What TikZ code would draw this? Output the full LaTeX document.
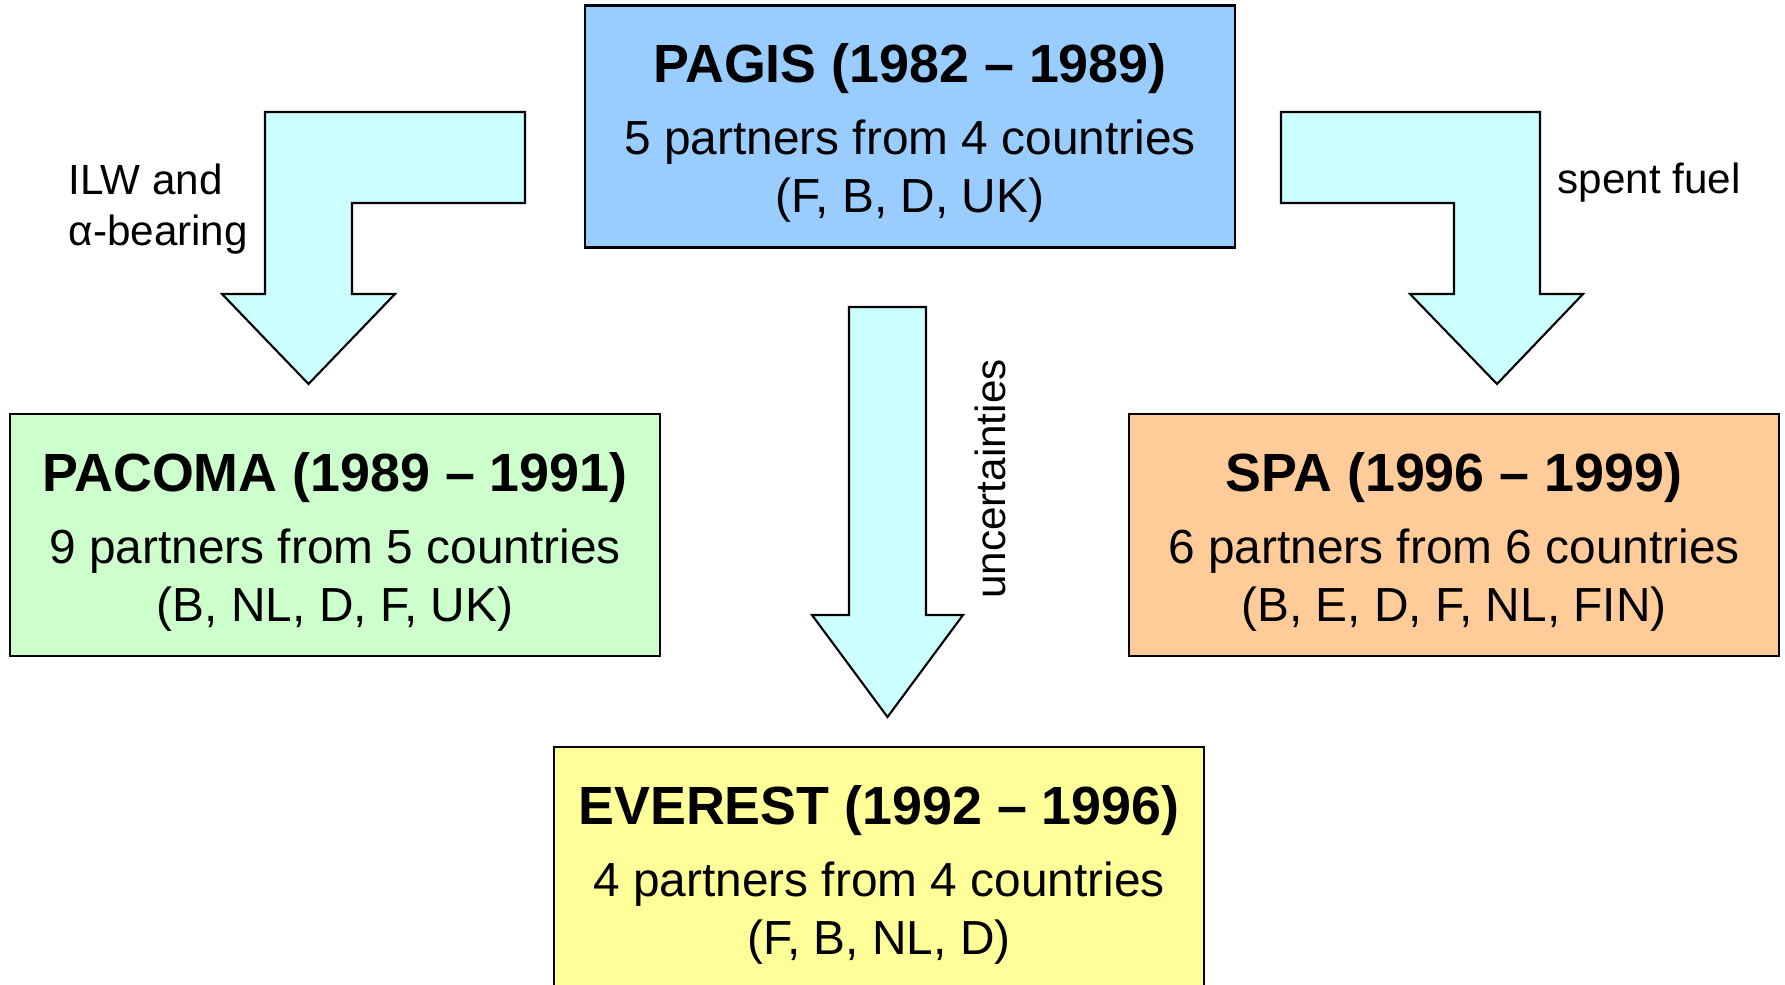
\documentclass[tikz,border=0pt]{standalone}
\usepackage{fontspec}
\setmainfont{Liberation Sans}
\usepackage{xcolor}
\usepackage{tikz}
\definecolor{pagisblue}{RGB}{153,204,255}
\definecolor{pacomagreen}{RGB}{204,255,204}
\definecolor{spaorange}{RGB}{255,204,153}
\definecolor{everestyellow}{RGB}{255,255,153}
\definecolor{flowcyan}{RGB}{204,255,255}
\newcommand{\stagetitle}[1]{{\fontsize{15.3}{18}\selectfont\bfseries\rule{0pt}{15pt}#1}}

\begin{document}
\begin{tikzpicture}[
    x=0.01cm, y=-0.01cm,
    stage/.style={rectangle, draw=black, line width=0.7pt, minimum width=6.5cm,
                  minimum height=2.42cm, align=center, inner sep=0pt,
                  font=\fontsize{13.6}{16.5}\selectfont},
    flow/.style={draw=black, line width=0.6pt, fill=flowcyan, line join=miter},
    tag/.style={font=\fontsize{12}{14.5}\selectfont, inner sep=0pt},
]
\useasboundingbox (0,0) rectangle (1785,985);

\node[stage, fill=pagisblue]     (pagis)   at (910,126.5) {\stagetitle{PAGIS (1982 \textendash{} 1989)}\\[4pt] 5 partners from 4 countries\\ (F, B, D, UK)};
\node[stage, fill=pacomagreen]   (pacoma)  at (335,535)   {\stagetitle{PACOMA (1989 \textendash{} 1991)}\\[4pt] 9 partners from 5 countries\\ (B, NL, D, F, UK)};
\node[stage, fill=spaorange]     (spa)     at (1454,535)  {\stagetitle{SPA (1996 \textendash{} 1999)}\\[4pt] 6 partners from 6 countries\\ (B, E, D, F, NL, FIN)};
\node[stage, fill=everestyellow] (everest) at (879,868)   {\stagetitle{EVEREST (1992 \textendash{} 1996)}\\[4pt] 4 partners from 4 countries\\ (F, B, NL, D)};

\draw[flow] (265,112) -- (525,112) -- (525,203) -- (352,203) -- (352,294) -- (395,294)
    -- (308.5,384) -- (222,294) -- (265,294) -- cycle;
\draw[flow] (1281,112) -- (1540,112) -- (1540,294) -- (1583,294) -- (1497,384)
    -- (1410,294) -- (1454,294) -- (1454,203) -- (1281,203) -- cycle;
\draw[flow] (849,307) -- (926,307) -- (926,615) -- (963,615) -- (887.5,717)
    -- (812,615) -- (849,615) -- cycle;

\node[tag, anchor=west, align=left] (ilw)   at (68,209)  {ILW and\\ α-bearing};
\node[tag, anchor=west]             (spent) at (1557,183) {spent fuel};
\node[tag, rotate=90]               (unc)   at (990,479) {uncertainties};

\end{tikzpicture}
\end{document}
